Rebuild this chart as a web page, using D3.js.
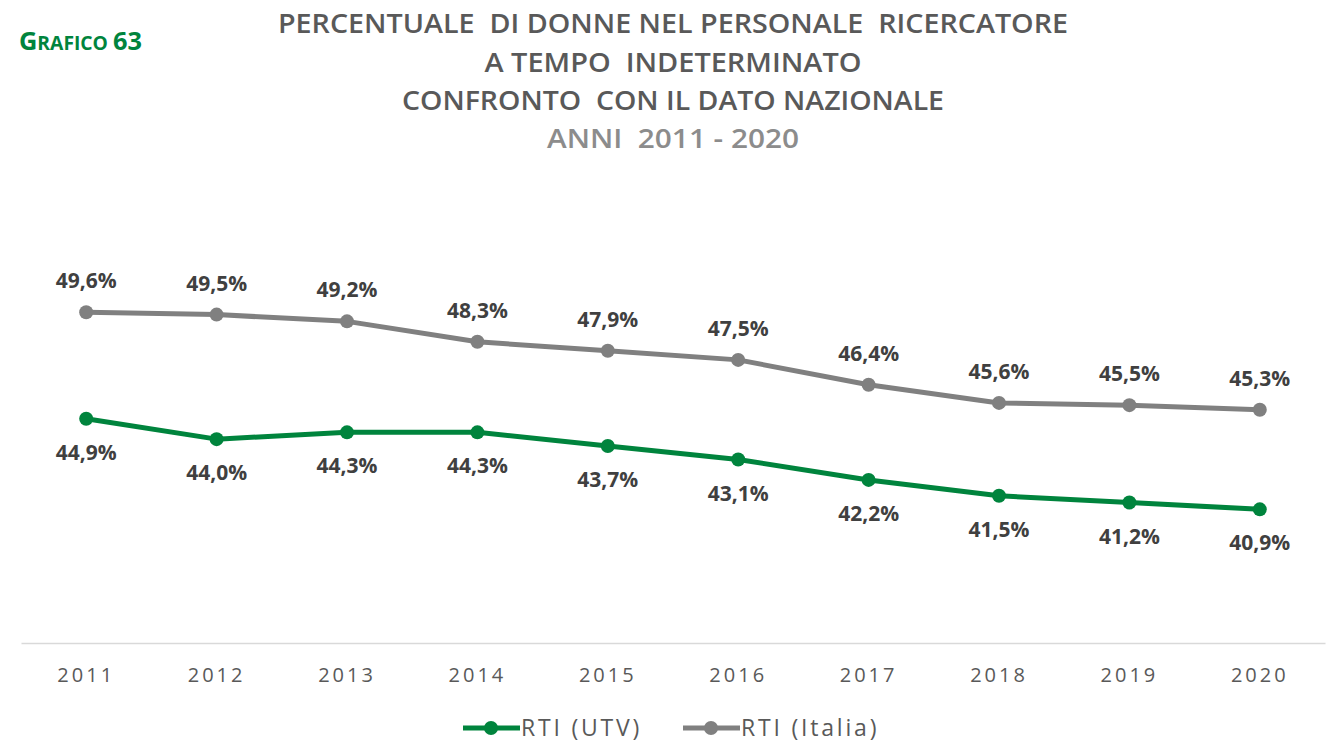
<!DOCTYPE html>
<html>
<head>
<meta charset="utf-8">
<script src="https://cdn.jsdelivr.net/npm/d3@7"></script>
<style>
  html, body { margin: 0; padding: 0; background: #fff; }
  svg { display: block; }
</style>
</head>
<body>
<svg id="chart" width="1336" height="744"></svg>
<script>
// Anni e serie (percentuale di donne nel personale ricercatore a tempo indeterminato)
const years = ["2011", "2012", "2013", "2014", "2015", "2016", "2017", "2018", "2019", "2020"];
const rtiUtv = [44.9, 44.0, 44.3, 44.3, 43.7, 43.1, 42.2, 41.5, 41.2, 40.9];
const rtiItalia = [49.6, 49.5, 49.2, 48.3, 47.9, 47.5, 46.4, 45.6, 45.5, 45.3];
const seriesNames = ["RTI (UTV)", "RTI (Italia)"];
const titleLines = [
  "PERCENTUALE  DI DONNE NEL PERSONALE  RICERCATORE",
  "A TEMPO  INDETERMINATO",
  "CONFRONTO  CON IL DATO NAZIONALE",
  "ANNI  2011 - 2020"
];

const GREEN = "#00843d";
const GREY = "#808080";
const sans = "'Open Sans', sans-serif";

const svg = d3.select("#chart");

const x = d3.scaleBand().domain(years).range([21, 1325]);
const y = d3.scaleLinear().domain([35, 55]).range([643, 190]);
const cx = d => x(d) + x.bandwidth() / 2;

// Etichetta del grafico
const tag = svg.append("text")
  .attr("x", 19).attr("y", 50)
  .attr("fill", GREEN)
  .attr("font-family", sans)
  .attr("font-weight", "bold")
  .attr("textLength", 123)
  .attr("lengthAdjust", "spacingAndGlyphs");
tag.append("tspan").attr("font-size", 25).text("G");
tag.append("tspan").attr("font-size", 19).text("RAFICO ");
tag.append("tspan").attr("font-size", 25).text("63");

// Titolo
const titleY = [33, 72, 110, 148];
const titleW = [790, 377, 542, 252];
titleLines.forEach((t, i) => {
  svg.append("text")
    .attr("x", 673).attr("y", titleY[i])
    .attr("text-anchor", "middle")
    .attr("font-family", sans)
    .attr("font-weight", 600)
    .attr("font-size", 27)
    .attr("fill", i === 3 ? "#8c8c8c" : "#595959")
    .attr("textLength", titleW[i])
    .attr("lengthAdjust", "spacingAndGlyphs")
    .style("white-space", "pre")
    .text(t);
});

// Asse orizzontale
const xAxis = d3.axisBottom(x).tickSize(0).tickPadding(25);
const gx = svg.append("g").attr("transform", `translate(0,${y(35)})`).call(xAxis);
gx.select(".domain").attr("stroke", "#d9d9d9").attr("stroke-width", 1.5);
gx.selectAll(".tick text")
  .attr("font-family", sans)
  .attr("font-size", 20)
  .attr("letter-spacing", 3)
  .attr("fill", "#595959");

// Linee e punti
const line = d3.line().x((d, i) => cx(years[i])).y(d => y(d));

function drawSeries(values, color, above) {
  svg.append("path")
    .datum(values)
    .attr("d", line)
    .attr("fill", "none")
    .attr("stroke", color)
    .attr("stroke-width", 5)
    .attr("stroke-linejoin", "round");
  svg.append("g").selectAll("circle")
    .data(values)
    .join("circle")
    .attr("cx", (d, i) => cx(years[i]))
    .attr("cy", d => y(d))
    .attr("r", 7)
    .attr("fill", color);
  svg.append("g").selectAll("text")
    .data(values)
    .join("text")
    .attr("x", (d, i) => cx(years[i]))
    .attr("y", d => y(d) + (above ? -24 : 41))
    .attr("text-anchor", "middle")
    .attr("font-family", sans)
    .attr("font-weight", "bold")
    .attr("font-size", 21)
    .attr("fill", "#404040")
    .text(d => d.toFixed(1).replace(".", ",") + "%");
}

drawSeries(rtiItalia, GREY, true);
drawSeries(rtiUtv, GREEN, false);

// Legenda
const legend = [
  { name: seriesNames[0], color: GREEN, x0: 463 },
  { name: seriesNames[1], color: GREY, x0: 683 }
];
legend.forEach(l => {
  const g = svg.append("g").attr("transform", `translate(${l.x0},728)`);
  g.append("line").attr("x1", 0).attr("x2", 57).attr("y1", 0).attr("y2", 0)
    .attr("stroke", l.color).attr("stroke-width", 5);
  g.append("circle").attr("cx", 28).attr("cy", 0).attr("r", 7).attr("fill", l.color);
  g.append("text").attr("x", 58).attr("y", 8)
    .attr("font-family", sans)
    .attr("font-size", 23)
    .attr("letter-spacing", 2.8)
    .attr("fill", "#595959")
    .text(l.name);
});
</script>
</body>
</html>
